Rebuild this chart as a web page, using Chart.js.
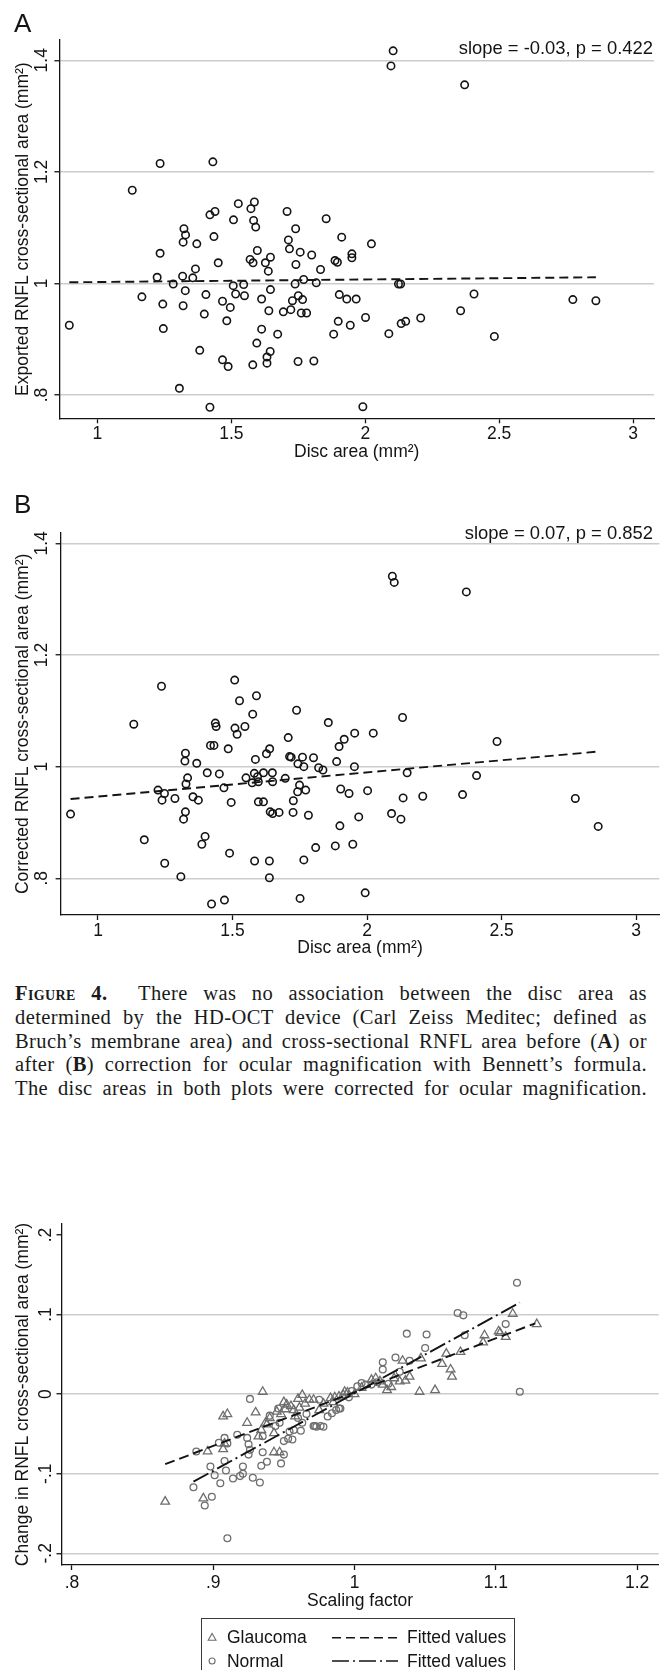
<!DOCTYPE html>
<html>
<head>
<meta charset="utf-8">
<title>Figure 4</title>
<script src="https://cdn.jsdelivr.net/npm/chart.js@4.4.1/dist/chart.umd.min.js"></script>
<style>
  html, body { margin: 0; padding: 0; background: #fff; }
  #page { position: relative; width: 665px; height: 1670px; overflow: hidden; background: #fff; }
  #page canvas { position: absolute; left: 0; }
  .sans { font-family: 'Liberation Sans', Arial, Helvetica, sans-serif; color: #141414; }
  .tag { position: absolute; left: 14px; font: 26px 'Liberation Sans', Arial, sans-serif; line-height: 1; color: #141414; }
  .stat { position: absolute; right: 12px; font-size: 18.4px; line-height: 1; white-space: nowrap; }
  .caption { position: absolute; left: 15px; top: 982px; width: 632px; font: 20.5px 'Liberation Serif', 'Times New Roman', serif; line-height: 23.75px; color: #1a1a1a; letter-spacing: 0.4px; }
  .caption div { text-align: justify; text-align-last: justify; }
  .caption .fig { font-weight: bold; font-variant: small-caps; }
  #keyC { position: absolute; left: 200.6px; top: 1618px; width: 314px; height: 70px; border: 1.3px solid #3a3a3a; box-sizing: border-box; }
  #keyC svg { position: absolute; left: 0; top: 0; }
  #keyC span { position: absolute; font-size: 17.5px; line-height: 1; white-space: nowrap; }
</style>
</head>
<body>
<div id="page">
  <canvas id="chartA" width="665" height="470" style="top:0px"></canvas>
  <canvas id="chartB" width="665" height="510" style="top:460px"></canvas>
  <canvas id="chartC" width="665" height="470" style="top:1200px"></canvas>

  <div class="tag" style="top:9.8px">A</div>
  <div class="stat sans" style="top:39.4px">slope = -0.03, p = 0.422</div>
  <div class="tag" style="top:491.4px">B</div>
  <div class="stat sans" style="top:524.4px">slope = 0.07, p = 0.852</div>

  <div class="caption">
    <div><span class="fig">Figure 4.</span>&nbsp; There was no association between the disc area as</div>
    <div>determined by the HD-OCT device (Carl Zeiss Meditec; defined as</div>
    <div>Bruch’s membrane area) and cross-sectional RNFL area before (<b>A</b>) or</div>
    <div>after (<b>B</b>) correction for ocular magnification with Bennett’s formula.</div>
    <div>The disc areas in both plots were corrected for ocular magnification.</div>
  </div>

  <div id="keyC" class="sans">
    <svg width="314" height="70">
      <polygon points="10.1,14.4 14,21.2 6.2,21.2" fill="none" stroke="#6e6e6e" stroke-width="1.1"/>
      <circle cx="10.1" cy="42" r="3" fill="none" stroke="#6e6e6e" stroke-width="1.1"/>
      <line x1="130" y1="18.7" x2="196" y2="18.7" stroke="#141414" stroke-width="1.6" stroke-dasharray="9 5"/>
      <line x1="130" y1="42" x2="196" y2="42" stroke="#141414" stroke-width="1.6" stroke-dasharray="17 4 2 4"/>
    </svg>
    <span style="left:25.4px; top:10.2px">Glaucoma</span>
    <span style="left:25.4px; top:33.5px">Normal</span>
    <span style="left:205.4px; top:10.2px">Fitted values</span>
    <span style="left:205.4px; top:33.5px">Fitted values</span>
  </div>
</div>

<script>
// Panel A: disc area vs exported RNFL cross-sectional area (both mm²)
const discA = [2.104, 2.096, 2.371, 1.234, 1.431, 1.130,
  1.526, 1.586, 1.573, 1.420, 1.439, 1.508, 1.583, 1.591, 1.708, 1.854,
  1.323, 1.329, 1.320, 1.371, 1.435, 1.740, 1.713, 1.717, 1.597, 1.234,
  1.451, 1.570, 1.581, 1.627, 1.646, 1.638, 1.757, 1.800, 1.741, 1.833,
  1.912, 2.023, 1.950, 1.950, 1.887, 1.896, 1.366, 1.223, 1.318, 1.356,
  1.283, 1.328, 1.405, 1.507, 1.546, 1.516, 1.549, 1.467, 1.496, 1.399,
  1.483, 1.613, 1.646, 1.640, 1.694, 1.722, 1.728, 1.750, 1.766, 1.761,
  1.781, 1.738, 1.770, 1.817, 1.903, 1.931, 1.966, 1.899, 1.944, 2.001,
  1.882, 1.673, 1.613, 1.595, 1.645, 1.633, 1.633, 1.580, 1.467, 1.488,
  1.382, 1.749, 1.808, 1.166, 1.244, 1.320, 0.895, 1.246, 1.306, 1.420,
  1.991, 2.124, 2.132, 2.088, 2.134, 2.151, 2.207, 2.356, 2.406, 2.482,
  2.775, 2.861];
const rnflA = [1.417, 1.390, 1.356, 1.215, 1.218, 1.167,
  1.143, 1.146, 1.134, 1.123, 1.129, 1.114, 1.113, 1.101, 1.129, 1.116,
  1.098, 1.087, 1.074, 1.071, 1.084, 1.098, 1.078, 1.062, 1.059, 1.054,
  1.037, 1.043, 1.037, 1.037, 1.047, 1.022, 1.056, 1.051, 1.034, 1.025,
  1.083, 1.071, 1.053, 1.046, 1.041, 1.038, 1.026, 1.011, 1.013, 1.010,
  0.999, 0.987, 0.980, 0.996, 0.998, 0.981, 0.978, 0.968, 0.957, 0.945,
  0.933, 0.972, 0.989, 0.951, 0.949, 0.953, 0.969, 0.978, 0.971, 0.947,
  0.947, 0.999, 1.007, 1.001, 0.980, 0.972, 0.972, 0.932, 0.925, 0.939,
  0.909, 0.909, 0.918, 0.893, 0.878, 0.868, 0.857, 0.854, 0.863, 0.851,
  0.880, 0.860, 0.861, 0.976, 0.963, 0.960, 0.925, 0.919, 0.812, 0.778,
  0.779, 0.999, 0.999, 0.910, 0.928, 0.932, 0.938, 0.951, 0.981, 0.905,
  0.971, 0.969];
const fitAX = [0.895, 2.861];
const fitAY = [1.002, 1.011];

// Panel B: same disc areas vs corrected RNFL area
const discB = [2.094, 2.101, 2.369,
  1.236, 1.508, 1.526, 1.589, 1.575, 1.738, 1.133, 1.436, 1.439, 1.509,
  1.546, 1.517, 1.856, 2.132, 1.707, 1.915, 1.954, 2.023, 1.896, 2.483,
  1.418, 1.431, 1.484, 1.325, 1.323, 1.367, 1.626, 1.638, 1.585, 1.712,
  1.718, 1.760, 1.801, 1.743, 1.765, 1.820, 1.836, 1.887, 1.953, 2.149,
  1.406, 1.451, 1.333, 1.327, 1.353, 1.373, 1.550, 1.573, 1.581, 1.593,
  1.596, 1.615, 1.648, 1.649, 1.696, 1.749, 1.742, 1.772, 1.468, 1.223,
  1.247, 1.238, 1.286, 1.495, 1.596, 1.615, 1.726, 1.640, 1.649, 1.673,
  1.725, 1.782, 1.902, 1.933, 2.002, 2.134, 2.207, 2.355, 2.407, 2.774,
  2.859, 0.898, 1.325, 1.318, 1.969, 2.091, 2.126, 1.899, 1.172, 1.398,
  1.386, 1.947, 1.882, 1.809, 1.489, 1.248, 1.582, 1.637, 1.765, 1.308,
  1.637, 1.993, 1.470, 1.422, 1.751];
const rnflB = [1.341, 1.330, 1.313,
  1.144, 1.155, 1.118, 1.127, 1.094, 1.101, 1.076, 1.078, 1.072, 1.069,
  1.072, 1.058, 1.079, 1.088, 1.052, 1.049, 1.060, 1.060, 1.036, 1.045,
  1.038, 1.038, 1.032, 1.024, 1.010, 1.006, 1.023, 1.032, 1.013, 1.018,
  1.017, 1.017, 1.016, 1.005, 1.000, 0.998, 0.994, 1.009, 1.000, 0.989,
  0.989, 0.987, 0.980, 0.969, 0.946, 0.940, 0.980, 0.971, 0.988, 0.982,
  0.973, 0.989, 0.989, 0.973, 0.979, 0.967, 0.955, 0.958, 0.962, 0.958,
  0.952, 0.940, 0.943, 0.936, 0.937, 0.937, 0.939, 0.919, 0.916, 0.918,
  0.918, 0.913, 0.960, 0.952, 0.957, 0.944, 0.947, 0.950, 0.984, 0.943,
  0.893, 0.915, 0.919, 0.906, 0.910, 0.916, 0.906, 0.894, 0.869, 0.875,
  0.861, 0.861, 0.858, 0.855, 0.845, 0.827, 0.831, 0.831, 0.833, 0.803,
  0.801, 0.774, 0.761, 0.754, 0.764];
const fitBX = [0.898, 2.859];
const fitBY = [0.942, 1.027];

// Panel C: scaling factor vs change in RNFL area, by group
const scaleGlaucoma = [0.866, 0.893, 0.907, 0.910, 0.930, 0.935, 0.924, 0.934, 0.932, 0.938,
  0.943, 0.943, 0.947, 0.896, 0.907, 0.952, 0.948, 0.951, 0.957, 0.961,
  0.963, 0.960, 0.968, 0.971, 0.975, 0.983, 0.986, 0.989, 0.992, 0.993,
  1.000, 1.012, 1.015, 1.018, 1.023, 1.026, 1.032, 1.034, 1.039, 1.046,
  1.047, 1.057, 1.062, 1.065, 1.068, 1.069, 1.075, 1.091, 1.092, 1.102,
  1.103, 1.107, 1.112, 1.129, 0.950, 0.955, 0.958, 0.965, 0.945, 0.978,
  0.985, 0.995, 1.005, 1.020, 1.028, 1.036, 0.940, 0.937, 0.908];
const changeGlaucoma = [-0.135, -0.131, -0.028, -0.025, -0.023, 0.003, -0.036, -0.045, -0.053, -0.038,
  -0.049, -0.073, -0.073, -0.072, -0.069, -0.013, -0.025, -0.019, -0.020, -0.017,
  -0.001, -0.006, -0.007, -0.007, -0.020, -0.005, -0.004, -0.003, -0.001, 0.003,
  0.000, 0.018, 0.020, 0.016, 0.005, 0.009, 0.016, 0.042, 0.022, 0.003,
  0.045, 0.005, 0.038, 0.051, 0.031, 0.022, 0.053, 0.065, 0.074, 0.079,
  0.077, 0.072, 0.101, 0.088, -0.010, -0.015, -0.028, -0.012, -0.022, -0.012,
  -0.010, 0.002, 0.008, 0.012, 0.020, 0.017, -0.030, -0.036, -0.062];
const scaleNormal = [0.910, 0.886, 0.894, 0.899, 0.898, 0.901, 0.905, 0.888, 0.904, 0.908,
  0.910, 0.908, 0.909, 0.914, 0.919, 0.921, 0.921, 0.917, 0.926, 0.925,
  0.925, 0.928, 0.933, 0.934, 0.935, 0.938, 0.935, 0.946, 0.950, 0.953,
  0.954, 0.948, 0.950, 0.947, 0.957, 0.962, 0.963, 0.971, 0.973, 0.978,
  0.975, 0.981, 0.984, 0.987, 0.990, 1.002, 1.005, 1.008, 1.020, 1.020,
  1.029, 1.032, 1.039, 1.037, 1.051, 1.050, 1.073, 1.077, 1.078, 1.107,
  1.117, 1.115, 1.012, 1.016, 1.024, 0.956, 0.972, 0.976, 0.989, 0.960,
  0.966, 0.944, 0.940, 0.996, 0.998, 0.924, 0.926];
const changeNormal = [-0.181, -0.117, -0.140, -0.129, -0.091, -0.102, -0.112, -0.072, -0.061, -0.055,
  -0.062, -0.084, -0.096, -0.106, -0.103, -0.100, -0.091, -0.051, -0.006, -0.063,
  -0.076, -0.105, -0.111, -0.090, -0.073, -0.085, -0.053, -0.018, -0.059, -0.056,
  -0.047, -0.087, -0.076, -0.036, -0.045, -0.046, -0.036, -0.040, -0.041, -0.041,
  -0.007, -0.028, -0.024, -0.020, -0.018, 0.010, 0.014, 0.012, 0.040, 0.031,
  0.046, 0.028, 0.042, 0.076, 0.075, 0.058, 0.102, 0.099, 0.074, 0.088,
  0.003, 0.140, 0.012, 0.015, 0.013, -0.057, -0.040, -0.040, -0.018, -0.030,
  -0.025, -0.040, -0.027, -0.004, 0.004, -0.055, -0.070];
const fitGlaucomaX = [0.866, 1.128];
const fitGlaucomaY = [-0.088, 0.089];
const fitNormalX = [0.886, 1.117];
const fitNormalY = [-0.110, 0.115];

// axis ticks
const discTicks = [1, 1.5, 2, 2.5, 3];
const rnflTicks = [0.8, 1, 1.2, 1.4];
const scaleTicks = [0.8, 0.9, 1, 1.1, 1.2];
const changeTicks = [-0.2, -0.1, 0, 0.1, 0.2];

const FONT = "'Liberation Sans', Arial, Helvetica, sans-serif";
const FS = 17.5;
const INK = '#141414';
const GRID = '#cccccc';
const MARK = '#6e6e6e';

// Stata style labels: ".8", "-.1", "1.5"
function stataLabel(v) {
  const s = String(Math.round(v * 100) / 100);
  return s.replace(/^(-?)0\./, '$1.');
}

function toPoints(xs, ys) {
  return xs.map((x, i) => ({x: x, y: ys[i]}));
}

function fitLine(xs, ys, dash) {
  return {
    data: toPoints(xs, ys),
    showLine: true,
    borderColor: INK,
    borderWidth: 1.9,
    borderDash: dash,
    pointRadius: 0,
    fill: false
  };
}

function markers(xs, ys, style, radius, color, width) {
  return {
    data: toPoints(xs, ys),
    showLine: false,
    pointStyle: style,
    pointRadius: radius,
    pointBorderWidth: width,
    pointBorderColor: color,
    pointBackgroundColor: 'rgba(0,0,0,0)'
  };
}

function makePanel(id, p) {
  return new Chart(document.getElementById(id), {
    type: 'scatter',
    data: { datasets: p.datasets },
    options: {
      responsive: false,
      animation: false,
      events: [],
      layout: { padding: { left: 0, right: p.padRight, top: p.padTop, bottom: 0 } },
      plugins: { legend: { display: false }, tooltip: { enabled: false } },
      scales: {
        x: {
          type: 'linear',
          min: p.xMin,
          max: p.xMax,
          afterBuildTicks: s => { s.ticks = p.xTicks.map(v => ({value: v})); },
          afterFit: s => { s.height = p.xHeight; },
          grid: { drawOnChartArea: false, drawTicks: true, tickLength: 5, tickColor: INK, tickWidth: 1.3 },
          border: { display: true, color: INK, width: 1.3 },
          ticks: {
            autoSkip: false, maxRotation: 0, padding: p.xTickPad, color: INK,
            font: { family: FONT, size: FS, lineHeight: 1 },
            callback: stataLabel
          },
          title: {
            display: true, text: p.xTitle, color: INK,
            font: { family: FONT, size: FS, lineHeight: 1.2 },
            padding: { top: 0, bottom: p.xTitlePad }
          }
        },
        y: {
          type: 'linear',
          min: p.yMin,
          max: p.yMax,
          afterBuildTicks: s => { s.ticks = p.yTicks.map(v => ({value: v})); },
          afterFit: s => { s.width = p.yWidth; },
          grid: {
            color: c => (c.tick && p.noGrid.includes(c.tick.value)) ? 'rgba(0,0,0,0)' : GRID,
            lineWidth: 1.5, drawTicks: true, tickLength: 5, tickColor: INK, tickWidth: 1.3
          },
          border: { display: true, color: INK, width: 1.3 },
          ticks: {
            autoSkip: false, minRotation: 90, maxRotation: 90, crossAlign: 'center',
            padding: p.yTickPad, color: INK,
            font: { family: FONT, size: FS, lineHeight: 1 },
            callback: stataLabel
          },
          title: {
            display: true, text: p.yTitle, color: INK,
            font: { family: FONT, size: FS, lineHeight: 1.2 },
            padding: { top: 12.5, bottom: 0 }
          }
        }
      }
    }
  });
}

makePanel('chartA', {
  datasets: [
    fitLine(fitAX, fitAY, [9, 5]),
    markers(discA, rnflA, 'circle', 3.7, INK, 1.6)
  ],
  xMin: 0.858, xMax: 3.078, xTicks: discTicks,
  yMin: 0.7582, yMax: 1.4364, yTicks: rnflTicks, noGrid: [],
  padTop: 40, padRight: 11, yWidth: 59.4, xHeight: 51.7,
  xTickPad: 2.25, xTitlePad: 7.2, yTickPad: 0,
  xTitle: 'Disc area (mm²)',
  yTitle: 'Exported RNFL cross-sectional area (mm²)'
});

makePanel('chartB', {
  datasets: [
    fitLine(fitBX, fitBY, [9, 5]),
    markers(discB, rnflB, 'circle', 3.7, INK, 1.6)
  ],
  xMin: 0.861, xMax: 3.0865, xTicks: discTicks,
  yMin: 0.7343, yMax: 1.419, yTicks: rnflTicks, noGrid: [],
  padTop: 72.7, padRight: 0, yWidth: 60.6, xHeight: 55,
  xTickPad: 2.25, xTitlePad: 11.5, yTickPad: 1.2,
  xTitle: 'Disc area (mm²)',
  yTitle: 'Corrected RNFL cross-sectional area (mm²)'
});

makePanel('chartC', {
  datasets: [
    fitLine(fitGlaucomaX, fitGlaucomaY, [10, 5]),
    fitLine(fitNormalX, fitNormalY, [17, 4, 2, 4]),
    markers(scaleGlaucoma, changeGlaucoma, 'triangle', 5, MARK, 1.3),
    markers(scaleNormal, changeNormal, 'circle', 3.4, MARK, 1.3)
  ],
  xMin: 0.7926, xMax: 1.2153, xTicks: scaleTicks,
  yMin: -0.2147, yMax: 0.2138, yTicks: changeTicks, noGrid: [0.2],
  padTop: 24, padRight: 0, yWidth: 61.5, xHeight: 105,
  xTickPad: 4.55, xTitlePad: 58, yTickPad: 0,
  xTitle: 'Scaling factor',
  yTitle: 'Change in RNFL cross-sectional area (mm²)'
});
</script>
</body>
</html>
